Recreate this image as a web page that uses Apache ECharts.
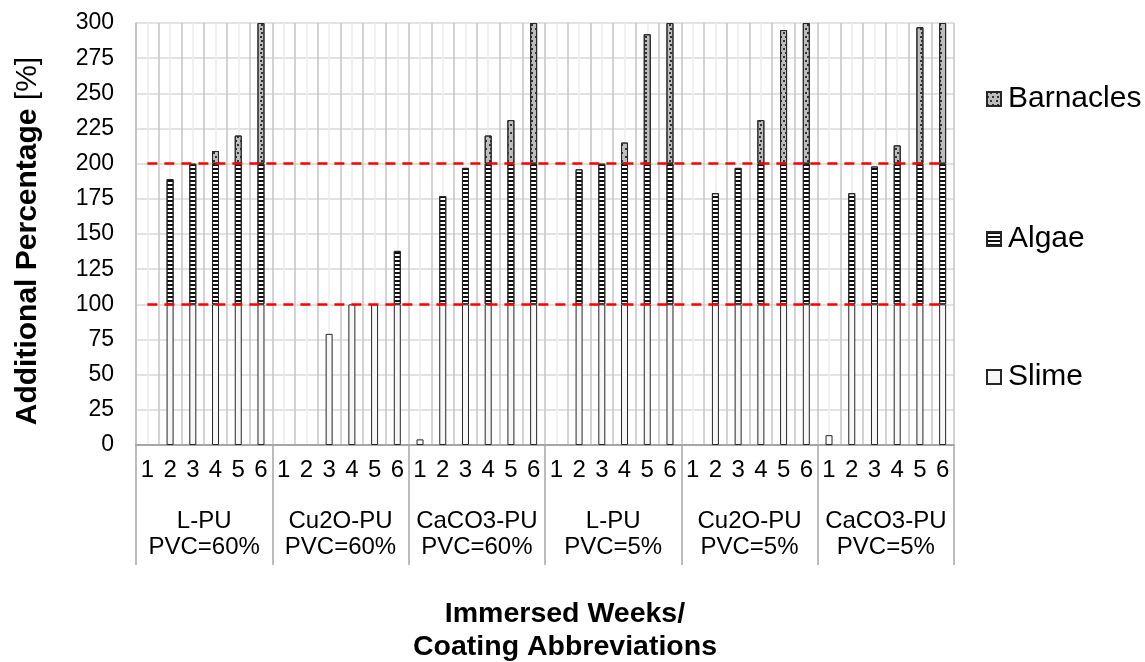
<!DOCTYPE html>
<html>
<head>
<meta charset="utf-8">
<script src="https://cdn.jsdelivr.net/npm/echarts@6/dist/echarts.min.js"></script>
<style>html,body{margin:0;padding:0;background:#fff}#c{width:1145px;height:662px}</style>
</head>
<body>
<div id="c"></div>
<script>
const weeks = ['1','2','3','4','5','6'];
const coatings = ['L-PU','Cu2O-PU','CaCO3-PU','L-PU','Cu2O-PU','CaCO3-PU'];
const pvc = ['PVC=60%','PVC=60%','PVC=60%','PVC=5%','PVC=5%','PVC=5%'];
const yTicks = [0,25,50,75,100,125,150,175,200,225,250,275,300];
const thresholds = [100, 200];

// per group, weeks 1..6 (null = no bar)
const slime = [
  [null,100,100,100,100,100],
  [null,null,79,100,100,100],
  [4,100,100,100,100,100],
  [null,100,100,100,100,100],
  [null,100,100,100,100,100],
  [7,100,100,100,100,100]
];
const algae = [
  [null,89,100,100,100,100],
  [null,null,null,null,null,38],
  [null,77,97,100,100,100],
  [null,96,100,100,100,100],
  [null,79,97,100,100,100],
  [null,79,98,100,100,100]
];
const barnacles = [
  [null,null,null,9,20,100],
  [null,null,null,null,null,null],
  [null,null,null,20,31,100],
  [null,null,null,15,92,100],
  [null,null,null,31,95,100],
  [null,null,null,13,97,100]
];

const cats = [];
coatings.forEach((c, gi) => weeks.forEach(w => cats.push(gi + '|' + w)));
const groupCats = coatings.map((c, i) => c + '\n' + pvc[i]);
const flat = a => a.reduce((r, g) => r.concat(g), []).map(v => v === null ? '-' : v);

const FONT = 'Liberation Sans, Arial, sans-serif';
const chart = echarts.init(document.getElementById('c'), null, { width: 1145, height: 662 });
const border = '#262626';
const legendBase = { orient: 'vertical', left: 986, padding: 0, itemWidth: 14, itemHeight: 14, itemGap: 0,
  textStyle: { fontSize: 30, color: '#000', fontFamily: FONT, padding: [0, 0, 0, 2] }, selectedMode: false, icon: 'rect' };

chart.setOption({
  animation: false,
  textStyle: { fontFamily: FONT },
  grid: { left: 136, width: 818, top: 23, height: 422, containLabel: false, outerBoundsMode: 'none' },
  legend: [
    Object.assign({ data: ['Barnacles'], top: 84 }, legendBase),
    Object.assign({ data: ['Algae'], top: 224 }, legendBase),
    Object.assign({ data: ['Slime'], top: 362 }, legendBase)
  ],
  xAxis: [
    {
      type: 'category', data: cats, boundaryGap: true, position: 'bottom',
      axisLine: { show: true, lineStyle: { color: '#a6a6a6', width: 2 } },
      axisTick: { show: false },
      axisLabel: { interval: 0, margin: 13, fontSize: 24, color: '#000', fontFamily: FONT,
        formatter: v => v.split('|')[1] },
      splitLine: { show: false }
    },
    {
      type: 'category', data: groupCats, boundaryGap: true, position: 'bottom', gridIndex: 0,
      axisLine: { show: false },
      axisTick: { show: true, length: 120, interval: 0, lineStyle: { color: '#a6a6a6', width: 1.5 } },
      axisLabel: { interval: 0, margin: 63, fontSize: 24, lineHeight: 26, color: '#000', fontFamily: FONT, align: 'center' },
      splitLine: { show: false },
      name: 'Immersed Weeks/\nCoating Abbreviations', nameLocation: 'middle', nameGap: 153,
      nameTextStyle: { fontSize: 28.5, fontWeight: 'bold', lineHeight: 33, color: '#000', fontFamily: FONT, padding: [0, 0, 0, 40] }
    },
    {
      type: 'value', min: 0, max: 36, interval: 1, position: 'top',
      axisLine: { show: false }, axisTick: { show: false }, axisLabel: { show: false },
      splitLine: { show: true, lineStyle: { color: '#c4c4c4', width: 1.5 } },
      minorTick: { show: false, splitNumber: 2 },
      minorSplitLine: { show: true, lineStyle: { color: '#ebebeb', width: 1.5 } }
    }
  ],
  yAxis: {
    type: 'value', min: yTicks[0], max: yTicks[yTicks.length - 1], interval: 25,
    axisLine: { show: true, lineStyle: { color: '#bfbfbf', width: 1.5 } },
    axisTick: { show: false },
    axisLabel: { margin: 22, fontSize: 23, color: '#000', fontFamily: FONT },
    splitLine: { show: true, lineStyle: { color: '#d9d9d9', width: 1.5 } },
    name: '{b|Additional Percentage }{n|[%]}', nameLocation: 'middle', nameGap: 93, nameRotate: 90,
    nameTextStyle: { rich: {
      b: { fontSize: 30, fontWeight: 'bold', color: '#000', fontFamily: FONT },
      n: { fontSize: 30, color: '#000', fontFamily: FONT, padding: [0, 14, 0, 0] }
    } }
  },
  series: [
    {
      name: 'Slime', type: 'bar', stack: 'a', xAxisIndex: 0, barWidth: 7, data: flat(slime),
      itemStyle: { color: '#f7f7f7', borderColor: border, borderWidth: 1 },
      markLine: {
        silent: true, symbol: 'none', label: { show: false }, z: 10,
        lineStyle: { color: '#ff0000', width: 2.5, type: [10, 7] },
        data: thresholds.map(t => [{ coord: [0, t] }, { coord: [cats.length - 1, t] }])
      }
    },
    {
      name: 'Algae', type: 'bar', stack: 'a', xAxisIndex: 0, barWidth: 7, data: flat(algae),
      itemStyle: { color: '#ffffff', borderColor: border, borderWidth: 1,
        decal: { symbol: 'rect', symbolSize: 1, color: '#111', dashArrayX: [[1, 0]], dashArrayY: [1.5, 1.5] } }
    },
    {
      name: 'Barnacles', type: 'bar', stack: 'a', xAxisIndex: 0, barWidth: 7, data: flat(barnacles),
      itemStyle: { color: '#bdbdbd', borderColor: border, borderWidth: 1,
        decal: { symbol: 'rect', symbolSize: 1, color: '#333', dashArrayX: [[2, 3], [0, 2.5, 2, 0.5]], dashArrayY: [2, 2] } }
    }
  ]
});
</script>
</body>
</html>
